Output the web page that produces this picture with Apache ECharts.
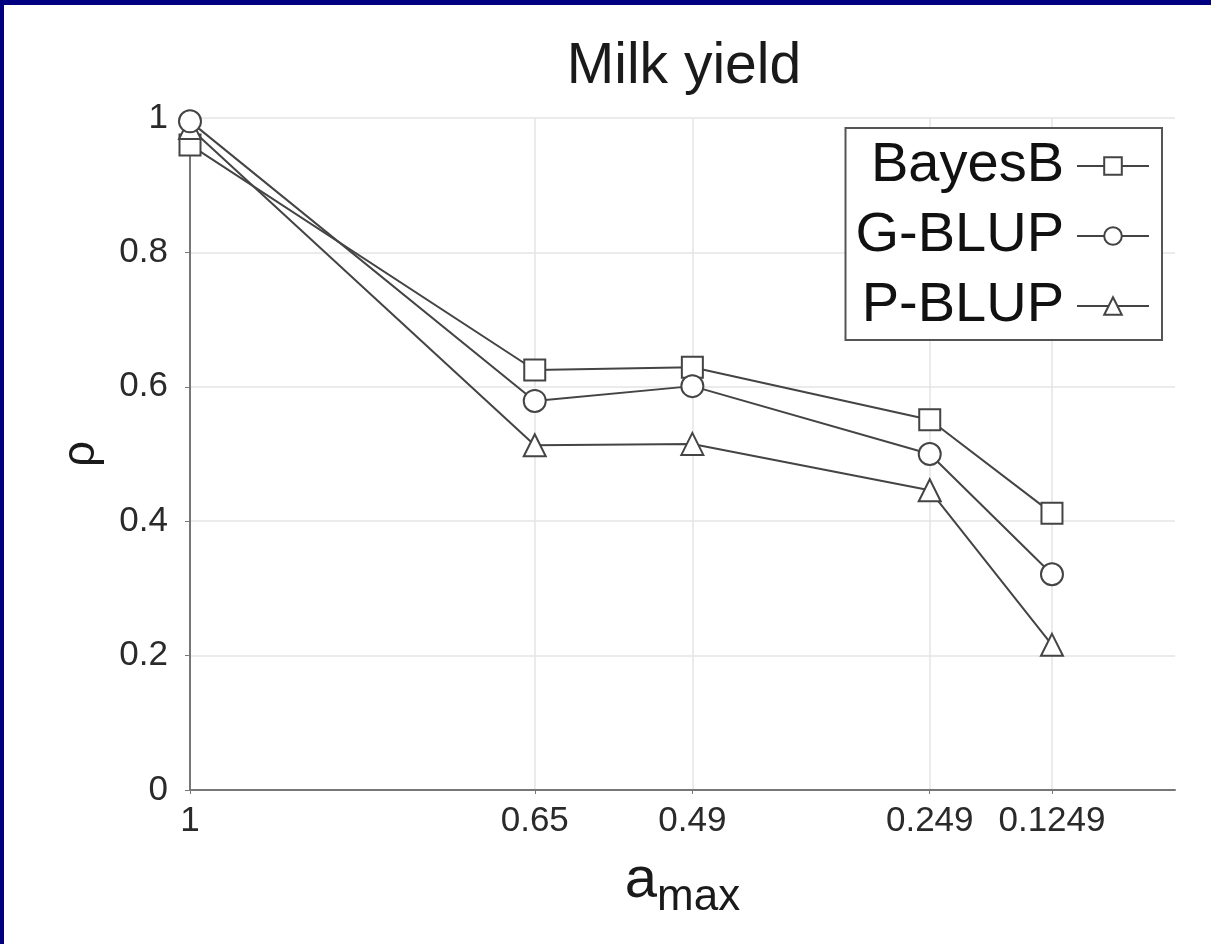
<!DOCTYPE html>
<html>
<head>
<meta charset="utf-8">
<title>Milk yield</title>
<script src="https://cdn.jsdelivr.net/npm/echarts@6/dist/echarts.min.js"></script>
<style>
  html, body { margin: 0; padding: 0; background: #fff; }
  #chart { position: absolute; left: 0; top: 0; width: 1211px; height: 944px; }
  #frame { position: absolute; left: 0; top: 0; width: 1207px; height: 939px;
           border-top: 5px solid #000080; border-left: 4px solid #000080; pointer-events: none; }
</style>
</head>
<body>
<div id="chart"></div>
<div id="frame"></div>
<script>
// a_max thresholds (x) and prediction accuracy rho (y) per method
const aMax = [1, 0.65, 0.49, 0.249, 0.1249];
const bayesB = [0.96, 0.625, 0.629, 0.551, 0.412];
const gBlup = [0.995, 0.579, 0.601, 0.500, 0.321];
const pBlup = [0.985, 0.513, 0.515, 0.446, 0.216];
const yTicks = [0, 0.2, 0.4, 0.6, 0.8, 1];

const font = '"Liberation Sans", Arial, sans-serif';
const ink = '#444';

function pairs(ys) {
  return aMax.map((x, i) => [x, ys[i]]);
}

function makeSeries(name, ys, symbol, size, z) {
  return {
    name: name,
    type: 'line',
    data: pairs(ys),
    symbol: symbol,
    symbolSize: size,
    showAllSymbol: true,
    lineStyle: { color: ink, width: 2 },
    itemStyle: { color: '#fff', borderColor: ink, borderWidth: 2 },
    emphasis: { disabled: true },
    z: z
  };
}

const chart = echarts.init(document.getElementById('chart'), null, { renderer: 'canvas' });

chart.setOption({
  animation: false,
  backgroundColor: '#fff',
  title: {
    text: 'Milk yield',
    left: 679,
    textAlign: 'center',
    top: 34,
    textStyle: { fontFamily: font, fontSize: 57, fontWeight: 'normal', color: '#1a1a1a' }
  },
  grid: { left: 190, right: 36, top: 118, bottom: 154, containLabel: false },
  legend: {
    orient: 'vertical',
    right: 49,
    top: 128,
    align: 'right',
    backgroundColor: '#fff',
    borderColor: '#555',
    borderWidth: 2,
    borderRadius: 0,
    padding: [10, 12, 6, 10],
    itemGap: 14,
    itemWidth: 72,
    itemHeight: 22,
    textStyle: { fontFamily: font, fontSize: 56, color: '#111', padding: [0, 8, 0, 0] },
    data: ['BayesB', 'G-BLUP', 'P-BLUP']
  },
  xAxis: {
    type: 'value',
    min: 0,
    max: 1,
    inverse: true,
    name: '{a|a}{s|max}',
    nameLocation: 'middle',
    nameGap: 52,
    nameTextStyle: {
      fontFamily: font,
      color: '#1a1a1a',
      rich: {
        a: { fontFamily: font, fontSize: 58, color: '#1a1a1a' },
        s: { fontFamily: font, fontSize: 44, color: '#1a1a1a', padding: [34, 0, 0, 0] }
      }
    },
    axisLine: { show: true, onZero: false, lineStyle: { color: '#777', width: 2 } },
    axisTick: { show: true, customValues: aMax, length: 4, inside: false, lineStyle: { color: '#777' } },
    axisLabel: { customValues: aMax, fontFamily: font, fontSize: 35, color: '#2a2a2a', margin: 14 },
    splitLine: { show: true, lineStyle: { color: '#e4e4e4', width: 1.5 } }
  },
  yAxis: {
    type: 'value',
    min: 0,
    max: 1,
    interval: 0.2,
    name: 'ρ',
    nameLocation: 'middle',
    nameGap: 86,
    nameTextStyle: { fontFamily: font, fontSize: 46, color: '#1a1a1a' },
    axisLine: { show: true, onZero: false, lineStyle: { color: '#777', width: 2 } },
    axisTick: { show: true, length: 5, lineStyle: { color: '#777' } },
    axisLabel: {
      fontFamily: font, fontSize: 35, color: '#2a2a2a', margin: 22,
      customValues: yTicks
    },
    splitLine: { show: true, lineStyle: { color: '#e4e4e4', width: 1.5 } }
  },
  series: [
    makeSeries('BayesB', bayesB, 'rect', 21, 3),
    makeSeries('P-BLUP', pBlup, 'triangle', 22, 3),
    makeSeries('G-BLUP', gBlup, 'circle', 22, 4)
  ]
});
</script>
</body>
</html>
